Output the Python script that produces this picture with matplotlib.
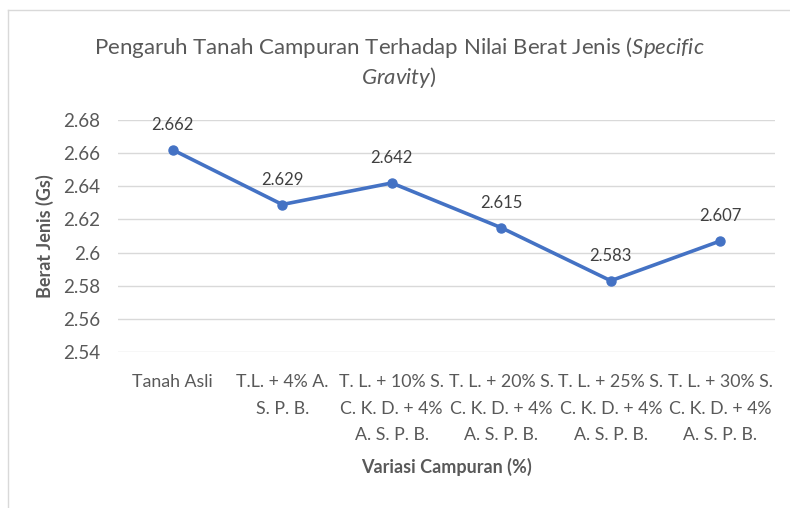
import matplotlib.pyplot as plt
from matplotlib.lines import Line2D

plt.rcParams['font.family'] = ['Lato', 'DejaVu Sans']
plt.rcParams['mathtext.fontset'] = 'custom'
plt.rcParams['mathtext.rm'] = 'Lato'
plt.rcParams['mathtext.it'] = 'Lato:italic'

categories = ['Tanah Asli',
              'T.L. + 4% A.\nS. P. B.',
              'T. L. + 10% S.\nC. K. D. + 4%\nA. S. P. B.',
              'T. L. + 20% S.\nC. K. D. + 4%\nA. S. P. B.',
              'T. L. + 25% S.\nC. K. D. + 4%\nA. S. P. B.',
              'T. L. + 30% S.\nC. K. D. + 4%\nA. S. P. B.']
gs_values = [2.662, 2.629, 2.642, 2.615, 2.583, 2.607]
y_ticks = [2.54, 2.56, 2.58, 2.60, 2.62, 2.64, 2.66, 2.68]
y_ticklabels = ['2.54', '2.56', '2.58', '2.6', '2.62', '2.64', '2.66', '2.68']

fig = plt.figure(figsize=(7.9, 5.08), dpi=100)
ax = fig.add_axes([118 / 790, 1 - 352 / 508, 657 / 790, 232 / 508])

x = list(range(len(categories)))
ax.plot(x, gs_values, color='#4472C4', lw=2.6, marker='o', ms=6.5, zorder=3)
for xi, v in zip(x, gs_values):
    ax.annotate(f'{v:.3f}', (xi, v), xytext=(0, 18), textcoords='offset points',
                ha='center', va='center', fontsize=12, color='#404040')

ax.set_xlim(-0.5, len(categories) - 0.5)
ax.set_ylim(2.54, 2.68)
ax.set_yticks(y_ticks)
ax.set_yticklabels(y_ticklabels, fontsize=13.5, color='#595959')
ax.set_xticks(x)
ax.set_xticklabels(categories, fontsize=12.8, color='#595959', linespacing=1.8)
ax.tick_params(axis='both', length=0)
ax.tick_params(axis='y', pad=13)
ax.tick_params(axis='x', pad=16)
ax.grid(axis='y', color='#D9D9D9', lw=1)
ax.set_axisbelow(True)
for s in ax.spines.values():
    s.set_visible(False)

ax.set_ylabel('Berat Jenis (Gs)', fontsize=13, fontweight='bold', color='#595959', labelpad=6)
ax.set_xlabel('Variasi Campuran (%)', fontsize=13, fontweight='bold', color='#595959', labelpad=11)

fig.text(0.505, 1 - 47 / 508, 'Pengaruh Tanah Campuran Terhadap Nilai Berat Jenis ($\\it{Specific}$',
         ha='center', va='center', fontsize=16, color='#595959')
fig.text(0.505, 1 - 77 / 508, '$\\it{Gravity}$)',
         ha='center', va='center', fontsize=16, color='#595959')

# chart border (only left and top visible in crop)
fig.add_artist(Line2D([8 / 790, 8 / 790], [0, 1 - 10 / 508], transform=fig.transFigure, color='#D9D9D9', lw=1))
fig.add_artist(Line2D([8 / 790, 1], [1 - 10 / 508, 1 - 10 / 508], transform=fig.transFigure, color='#D9D9D9', lw=1))

fig.savefig('out.png', dpi=100)
